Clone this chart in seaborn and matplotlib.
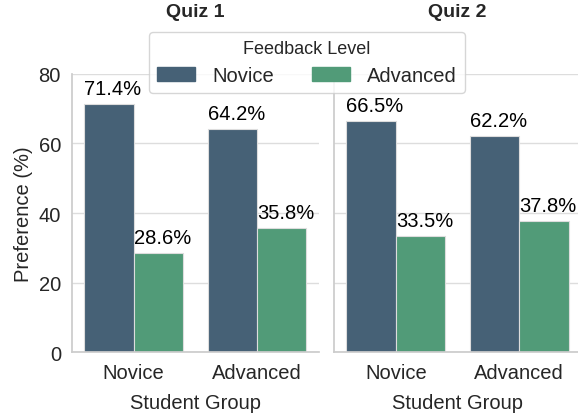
# Preference by student group and feedback level, two quizzes

import pandas as pd
import matplotlib.pyplot as plt
import seaborn as sns


# Data
quizzes = ['Quiz 1', 'Quiz 2']
groups = ['Novice', 'Advanced']
levels = ['Novice', 'Advanced']
novice_pref = [[71.4, 64.2], [66.5, 62.2]]     # per quiz, per student group
advanced_pref = [[28.6, 35.8], [33.5, 37.8]]

rows = []
for qi, quiz in enumerate(quizzes):
    for gi, group in enumerate(groups):
        rows.append([quiz, group, 'Novice', novice_pref[qi][gi]])
        rows.append([quiz, group, 'Advanced', advanced_pref[qi][gi]])
data = pd.DataFrame(rows, columns=['quiz', 'group', 'level', 'pref'])

sns.set_theme(style='whitegrid')
plt.rcParams['font.family'] = ['Liberation Sans', 'DejaVu Sans']

colors = {'Novice': '#466176', 'Advanced': '#519b78'}

fig = plt.figure(figsize=(5.78, 4.14), dpi=100)
ax1 = fig.add_axes([0.1246, 0.147, 0.427, 0.672])
ax2 = fig.add_axes([0.578, 0.147, 0.427, 0.672], sharey=ax1)

for ax, quiz in zip([ax1, ax2], quizzes):
    sub = data[data['quiz'] == quiz]
    sns.barplot(x='group', y='pref', hue='level', data=sub, order=groups,
                hue_order=levels, palette=colors, saturation=1,
                edgecolor='#dddddd', linewidth=0.8, ax=ax, legend=False)
    # value labels, left-aligned at bar edge
    for p in ax.patches:
        h = p.get_height()
        ax.text(p.get_x(), h + 1.6, f'{h:.1f}%', ha='left', va='bottom',
                fontsize=14.5, color='black')
    ax.set_title(quiz, fontsize=14, fontweight='bold', pad=42)
    ax.set_xlabel('Student Group', fontsize=14.5, labelpad=8)
    ax.tick_params(axis='both', labelsize=14.5, pad=2)
    ax.grid(axis='x', visible=False)
    ax.grid(axis='y', color='#dddddd')
    sns.despine(ax=ax)
    for s in ['left', 'bottom']:
        ax.spines[s].set_color('#cccccc')

ax1.set_ylim(0, 80)
ax1.set_yticks([0, 20, 40, 60, 80])
ax1.set_ylabel('Preference (%)', fontsize=14.5)
ax2.set_ylabel('')
ax2.tick_params(axis='y', labelleft=False)

handles = [plt.Rectangle((0, 0), 1, 1, color=colors[l]) for l in levels]
fig.legend(handles, levels, title='Feedback Level', ncol=2, loc='upper center',
           bbox_to_anchor=(0.531, 0.920), borderaxespad=0, fontsize=14.5,
           title_fontsize=13, frameon=True, columnspacing=1.9,
           handlelength=1.9, handletextpad=0.85, borderpad=0.4,
           labelspacing=0.45)

plt.savefig('out.png', dpi=100)
